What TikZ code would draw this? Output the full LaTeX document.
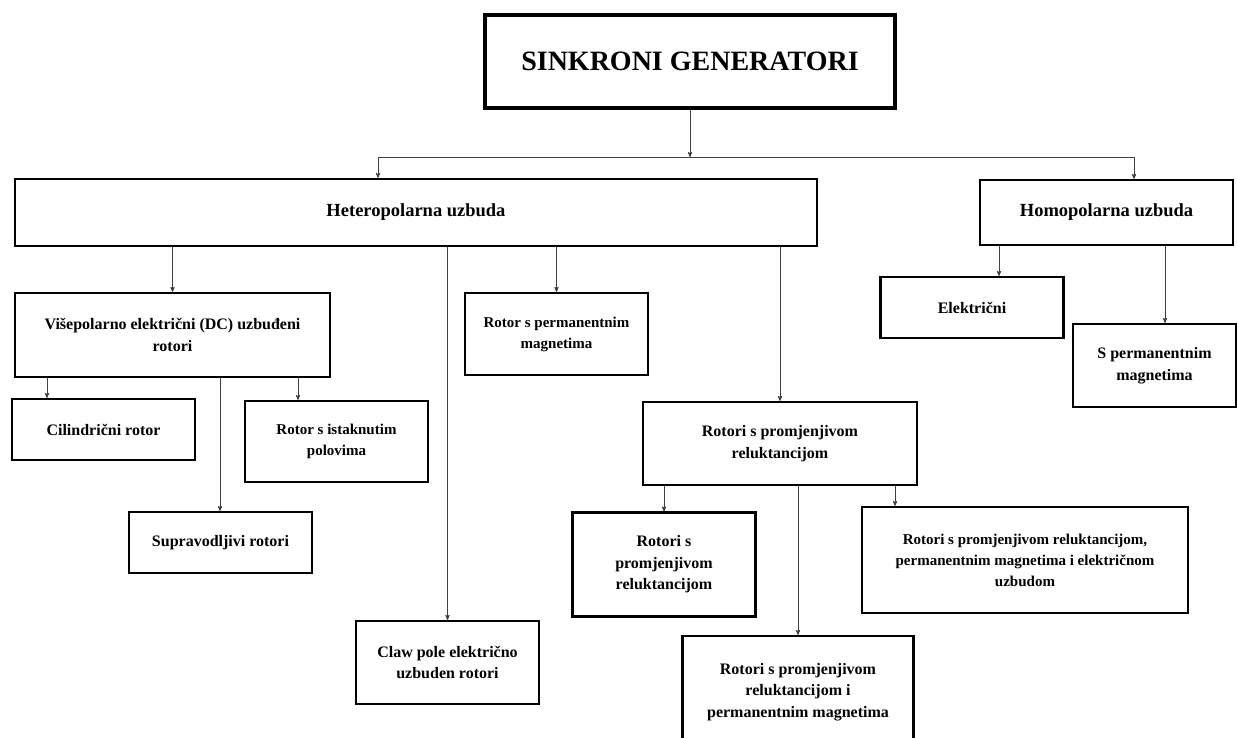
\documentclass[tikz,border=0pt]{standalone}
\usepackage{fontspec}
\setmainfont{Liberation Serif}
\usetikzlibrary{arrows}
\tikzset{
  kutija/.style = {draw=black, line width=2.2pt, align=center, inner sep=0pt,
    font=\bfseries\fontsize{16}{21.5}\selectfont},% obicni blok
  glavna/.style = {kutija, line width=3.6pt,
    font=\bfseries\fontsize{28}{32}\selectfont},% naslovni blok
  veliki/.style = {font=\bfseries\fontsize{18.5}{22}\selectfont},% veci tekst
  mali/.style = {font=\bfseries\fontsize{15}{21}\selectfont},% manji tekst
  veza/.style = {black!75, line width=0.8pt},% spojnica
}

\begin{document}
\begin{tikzpicture}[x=1pt,y=-1pt,->,>=stealth']
\fill[white] (0,0) rectangle (1237,738);
\useasboundingbox (0,0) rectangle (1237,738);

% blokovi
\node [glavna, minimum width=410, minimum height=93] (sg) at (690,61.5) {SINKRONI GENERATORI};
\node [kutija, veliki, minimum width=802, minimum height=67] (het) at (416,212.5) {Heteropolarna uzbuda};
\node [kutija, veliki, minimum width=253, minimum height=65] (hom) at (1106.5,212.5) {Homopolarna uzbuda};
\node [kutija, minimum width=315, minimum height=84] (vise) at (172.5,335)
  {Višepolarno električni (DC) uzbuđeni\\rotori};
\node [kutija, minimum width=183, minimum height=61] (cil) at (103.5,429.5) {Cilindrični rotor};
\node [kutija, mali, minimum width=183, minimum height=81]
  (ist) at (336.5,441.5) {Rotor s istaknutim\\polovima};
\node [kutija, minimum width=183, minimum height=61] (sup) at (220.5,542.5) {Supravodljivi rotori};
\node [kutija, minimum width=183, minimum height=83] (claw) at (447.5,662.5)
  {Claw pole električno\\uzbuden rotori};
\node [kutija, mali, minimum width=183, minimum height=82] (perm) at (556.5,334)
  {Rotor s permanentnim\\magnetima};
\node [kutija, minimum width=274, minimum height=83] (prom) at (780,443.5)
  {Rotori s promjenjivom\\reluktancijom};
\node [kutija, minimum width=183, minimum height=104] (prom1) at (664,564.5)
  {Rotori s\\promjenjivom\\reluktancijom};
\node [kutija, minimum width=231, minimum height=112] (prom2) at (798,692)
  {Rotori s promjenjivom\\reluktancijom i\\permanentnim magnetima};
\node [kutija, mali, minimum width=326, minimum height=106] (prom3) at (1025,560)
  {Rotori s promjenjivom reluktancijom,\\permanentnim magnetima i električnom\\uzbudom};
\node [kutija, minimum width=183, minimum height=61] (ele) at (972,307.5) {Električni};
\node [kutija, minimum width=163, minimum height=83] (sperm) at (1154.5,365.5)
  {S permanentnim\\magnetima};

% tocke za spojnice
\coordinate (sabir) at (690,157);
\coordinate (xhet) at (378,0);
\coordinate (xhom) at (1134,0);
\coordinate (xcil) at (47,0);
\coordinate (xsup) at (220,0);
\coordinate (xist) at (298,0);
\coordinate (xp1) at (664,0);
\coordinate (xp2) at (798,0);
\coordinate (xp3) at (895,0);
\coordinate (xele) at (999,0);
\coordinate (xsp) at (1165,0);

% spojnice
\draw [veza] (sg) -- (sabir);
\draw [veza, -] (sabir -| xhet) -- (sabir -| xhom);
\draw [veza] (sabir -| xhet) -- (het.north -| xhet);
\draw [veza] (sabir -| xhom) -- (hom.north -| xhom);
\draw [veza] (het.south -| vise) -- (vise);
\draw [veza] (het.south -| claw) -- (claw);
\draw [veza] (het.south -| perm) -- (perm);
\draw [veza] (het.south -| prom) -- (prom);
\draw [veza] (vise.south -| xcil) -- (cil.north -| xcil);
\draw [veza] (vise.south -| xsup) -- (sup.north -| xsup);
\draw [veza] (vise.south -| xist) -- (ist.north -| xist);
\draw [veza] (prom.south -| xp1) -- (prom1.north -| xp1);
\draw [veza] (prom.south -| xp2) -- (prom2.north -| xp2);
\draw [veza] (prom.south -| xp3) -- (prom3.north -| xp3);
\draw [veza] (hom.south -| xele) -- (ele.north -| xele);
\draw [veza] (hom.south -| xsp) -- (sperm.north -| xsp);
\end{tikzpicture}
\end{document}
